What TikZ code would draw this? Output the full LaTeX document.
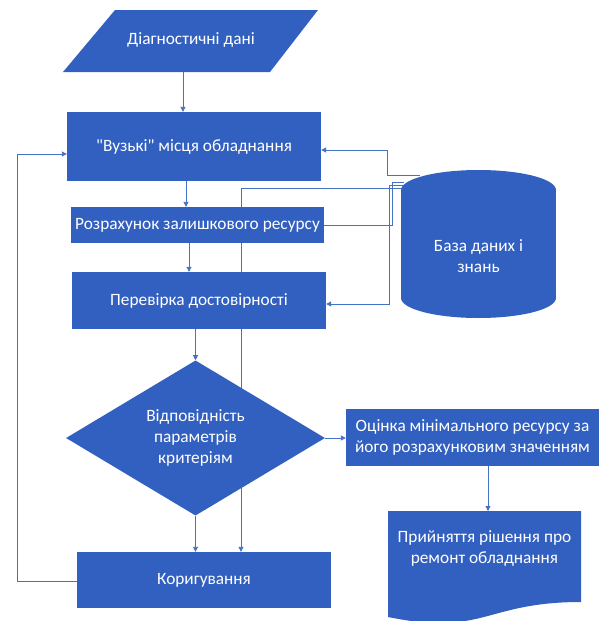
\documentclass[tikz,border=0pt]{standalone}
\usepackage{fontspec}
\newfontfamily\carl{Carlito}
\usetikzlibrary{shapes.geometric,arrows.meta}
\definecolor{boxblue}{RGB}{50,96,192}
\definecolor{lineblue}{RGB}{68,114,196}
\pgfdeclarelayer{paper}
\pgfdeclarelayer{bg}
\pgfsetlayers{paper,bg,main}
\begin{document}
\begin{tikzpicture}[x=1pt,y=-1pt,
  lbl/.style={text=white, align=center, inner sep=0pt, font=\carl\fontsize{17.3}{21}\selectfont},
  box/.style={lbl, fill=boxblue, draw=none},
  arr/.style={draw=lineblue, line width=0.9pt, -{Triangle[length=5pt,width=5pt]}},
  ln/.style={draw=lineblue, line width=0.9pt}]
\useasboundingbox (0,0) rectangle (603,621);
\begin{pgfonlayer}{paper}
\fill[white] (0,0) rectangle (603,621);
\end{pgfonlayer}

% input parallelogram
\fill[boxblue] (115,10) -- (318,10) -- (270,72) -- (63,72) -- cycle;
\node[lbl] (in) at (191,40) {Діагностичні дані};
\coordinate (inb) at (183,72);

% boxes
\node[box, minimum width=254pt, minimum height=69pt] (b1) at (194,146.5) {"Вузькі" місця обладнання};
\node[box, minimum width=253pt, minimum height=36pt] (b2) at (197.5,225) {Розрахунок залишкового ресурсу};
\node[box, minimum width=254pt, minimum height=57pt] (b3) at (199,300.5) {Перевірка достовірності};
\node[box, diamond, minimum width=259pt, minimum height=150pt] (dia) at (195.5,438) {Відповідність\\параметрів\\критеріям};
\node[box, minimum width=253pt, minimum height=57pt] (b4) at (472.5,437.5) {Оцінка мінімального ресурсу за\\його розрахунковим значенням};
\node[box, minimum width=254pt, minimum height=56pt] (b5) at (204,580) {Коригування};

% document shape
\fill[boxblue] (388,511) -- (581,511) -- (581,602) .. controls (484.5,602) and (484.5,636.6) .. (388,617) -- cycle;
\node[lbl] (doc) at (484.5,548) {Прийняття рішення про\\ремонт обладнання};
\coordinate (doct) at (488,511);

% database cylinder
\fill[boxblue] (401,190) rectangle (556,298);
\fill[boxblue] (478.5,190) ellipse [x radius=77.5pt, y radius=20pt];
\fill[boxblue] (478.5,298) ellipse [x radius=77.5pt, y radius=20pt];
\node[lbl] (db) at (478.5,256) {База даних і\\знань};
\coordinate (c1) at (420,175);
\coordinate (c2) at (404,182.5);
\coordinate (c3) at (404,185.5);
\coordinate (c4) at (404,188.5);

% connectors
\draw[arr] (inb) -- (inb |- b1.north);
\draw[arr] (b1.south -| 186,0) -- (b2.north -| 186,0);
\draw[arr] (b2.south -| 189,0) -- (b3.north -| 189,0);
\draw[arr] (b3.south -| dia.north) -- (dia.north);
\draw[arr] (dia.east) -- (b4.west |- dia.east);
\draw[arr] (b4.south -| doct) -- (doct);
\draw[arr] (dia.south) -- (dia.south |- b5.north);
\draw[arr] (b5.west |- 0,581) -- (17,581) |- (b1.west |- 0,154);

\begin{pgfonlayer}{bg}
\draw[arr] (c1) -| (387,150) -- (b1.east |- 0,150);
\draw[ln] (b2.east |- 0,225) -| (392,182.5) -- (c2);
\draw[arr] (c3) -| (389,304) -- (b3.east |- 0,304);
\draw[arr] (c4) -| (b5.north -| 241,0);
\end{pgfonlayer}
\end{tikzpicture}
\end{document}
